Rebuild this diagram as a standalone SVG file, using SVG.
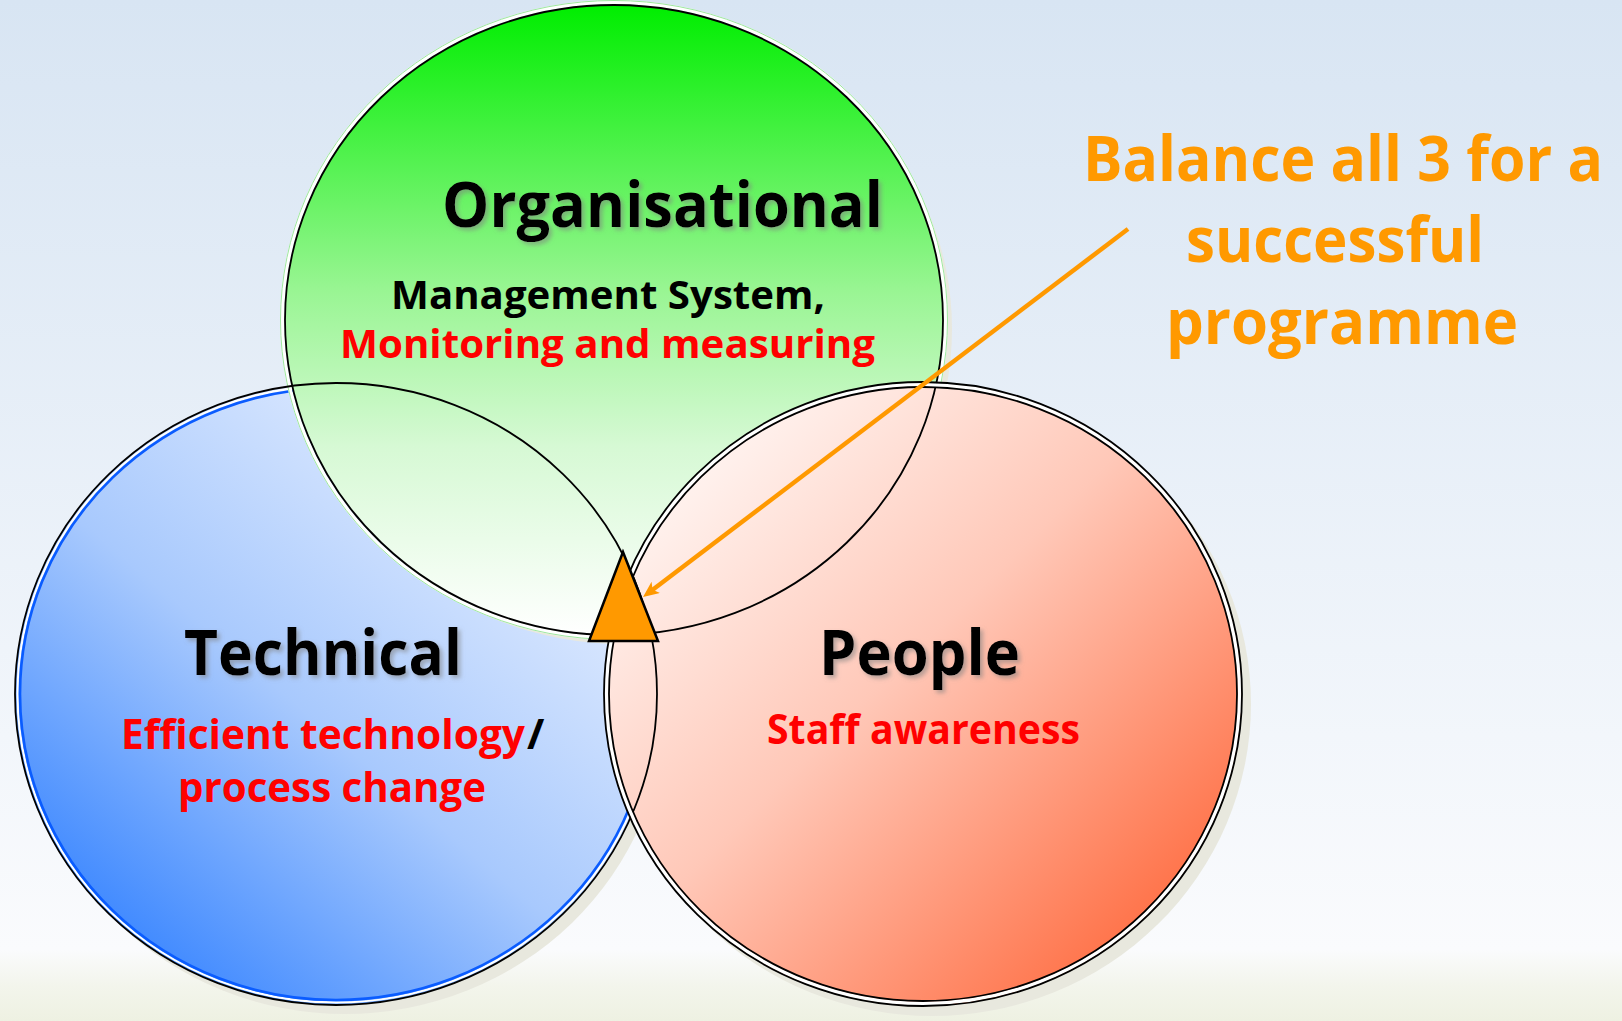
<svg xmlns="http://www.w3.org/2000/svg" width="1622" height="1021" viewBox="0 0 1622 1021">
<defs>
<linearGradient id="bg" x1="0" y1="0" x2="0" y2="1">
<stop offset="0" stop-color="#d8e5f3"/>
<stop offset="0.72" stop-color="#f2f6fb"/>
<stop offset="0.93" stop-color="#fafbfd"/>
<stop offset="0.965" stop-color="#f3f5ec"/>
<stop offset="1" stop-color="#eef1e2"/>
</linearGradient>
<linearGradient id="gGreen" x1="0" y1="0" x2="0" y2="1">
<stop offset="0" stop-color="#00ee00"/>
<stop offset="0.45" stop-color="#98f592"/>
<stop offset="0.7" stop-color="#d6f9d4"/>
<stop offset="1" stop-color="#ffffff"/>
</linearGradient>
<linearGradient id="gBlue" x1="0.15" y1="0.9" x2="0.85" y2="0.1">
<stop offset="0" stop-color="#3a86ff"/>
<stop offset="0.45" stop-color="#a8c9fd"/>
<stop offset="1" stop-color="#ebf2ff"/>
</linearGradient>
<linearGradient id="gRed" x1="0.1" y1="0.1" x2="0.9" y2="0.9">
<stop offset="0" stop-color="#fff8f6"/>
<stop offset="0.45" stop-color="#ffc8b8"/>
<stop offset="1" stop-color="#ff6a3e"/>
</linearGradient>
<filter id="ts" x="-10%" y="-30%" width="120%" height="160%">
<feDropShadow dx="3" dy="3" stdDeviation="2" flood-color="#808080" flood-opacity="0.55"/>
</filter>
<marker id="ah" markerUnits="userSpaceOnUse" markerWidth="18" markerHeight="16" refX="8" refY="7" orient="auto">
<path d="M0,0 L16,7 L0,14 L4,7 Z" fill="#ff9900"/>
</marker>
<style>
.shadow{fill:#e8e8de}
.ol{fill:none;stroke:#000;stroke-width:1.8}
.head{font-family:"Open Sans","DejaVu Sans",sans-serif;font-weight:bold;fill:#000}
.sub{font-family:"Open Sans","DejaVu Sans",sans-serif;font-weight:bold}
.red{fill:#ff0000}
.blk{fill:#000}
.note{font-family:"Open Sans","DejaVu Sans",sans-serif;font-weight:bold;fill:#ff9900;font-size:62px}
</style>
</defs>
<rect x="0" y="0" width="1622" height="1021" fill="url(#bg)"/>

<g id="technical">
<ellipse class="shadow" cx="345" cy="703" rx="321" ry="311"/>
<ellipse cx="336" cy="694" rx="321" ry="311" fill="url(#gBlue)"/>
<ellipse cx="336" cy="694" rx="318.5" ry="308.5" fill="none" stroke="#ffffff" stroke-width="2"/>
<ellipse cx="336" cy="694" rx="316" ry="306" fill="none" stroke="#0a5cff" stroke-width="2.6"/>
<text class="head" x="184" y="675" font-size="62" textLength="278" lengthAdjust="spacingAndGlyphs" filter="url(#ts)">Technical</text>
<text class="sub red" x="525" y="749" font-size="42" text-anchor="end" textLength="404" lengthAdjust="spacingAndGlyphs">Efficient technology</text>
<text class="sub blk" x="527" y="749" font-size="42">/</text>
<text class="sub red" x="178" y="802" font-size="42" textLength="308" lengthAdjust="spacingAndGlyphs">process change</text>
</g>

<g id="organisational">
<ellipse class="shadow" cx="623" cy="329" rx="329" ry="315"/>
<ellipse cx="614" cy="320" rx="332" ry="318" fill="none" stroke="#ffffff" stroke-width="4"/>
<ellipse cx="614" cy="320" rx="333.5" ry="319.5" fill="none" stroke="#9ee89e" stroke-width="1"/>
<ellipse cx="614" cy="320" rx="329" ry="315" fill="url(#gGreen)"/>
<text class="head" x="442" y="227" font-size="62" textLength="441" lengthAdjust="spacingAndGlyphs" filter="url(#ts)">Organisational</text>
<text class="sub blk" x="391" y="309" font-size="39" textLength="434" lengthAdjust="spacingAndGlyphs">Management System,</text>
<text class="sub red" x="340" y="358" font-size="39" textLength="535" lengthAdjust="spacingAndGlyphs">Monitoring and measuring</text>
</g>

<g id="people">
<ellipse class="shadow" cx="932" cy="704" rx="319" ry="312"/>
<ellipse cx="923" cy="694" rx="319" ry="312" fill="url(#gRed)"/>
<text class="head" x="819" y="675" font-size="62" textLength="201" lengthAdjust="spacingAndGlyphs" filter="url(#ts)">People</text>
<text class="sub red" x="767" y="744" font-size="41" textLength="313" lengthAdjust="spacingAndGlyphs">Staff awareness</text>
</g>

<g id="outlines">
<ellipse class="ol" cx="336" cy="694" rx="321" ry="311"/>
<ellipse class="ol" cx="614" cy="320" rx="329" ry="315"/>
<ellipse cx="923" cy="694" rx="316.5" ry="309.5" fill="none" stroke="#ffffff" stroke-width="4"/>
<ellipse class="ol" cx="923" cy="694" rx="319" ry="312" stroke-width="1.6"/>
<ellipse class="ol" cx="923" cy="694" rx="314" ry="307" stroke-width="1.6"/>
</g>

<g id="balance-point">
<polygon points="623,552 589,641 658,641" fill="#ff9900" stroke="#000" stroke-width="2.5" stroke-linejoin="miter"/>
</g>

<g id="note">
<text class="note" x="1603" y="181" text-anchor="end" textLength="520" lengthAdjust="spacingAndGlyphs">Balance all 3 for a</text>
<text class="note" x="1186" y="262" textLength="298" lengthAdjust="spacingAndGlyphs">successful</text>
<text class="note" x="1166" y="344" textLength="352" lengthAdjust="spacingAndGlyphs">programme</text>
</g>

<g id="connectors">
<line x1="1128" y1="229" x2="649.4" y2="592.2" stroke="#ff9900" stroke-width="4.5" marker-end="url(#ah)"/>
</g>
</svg>
